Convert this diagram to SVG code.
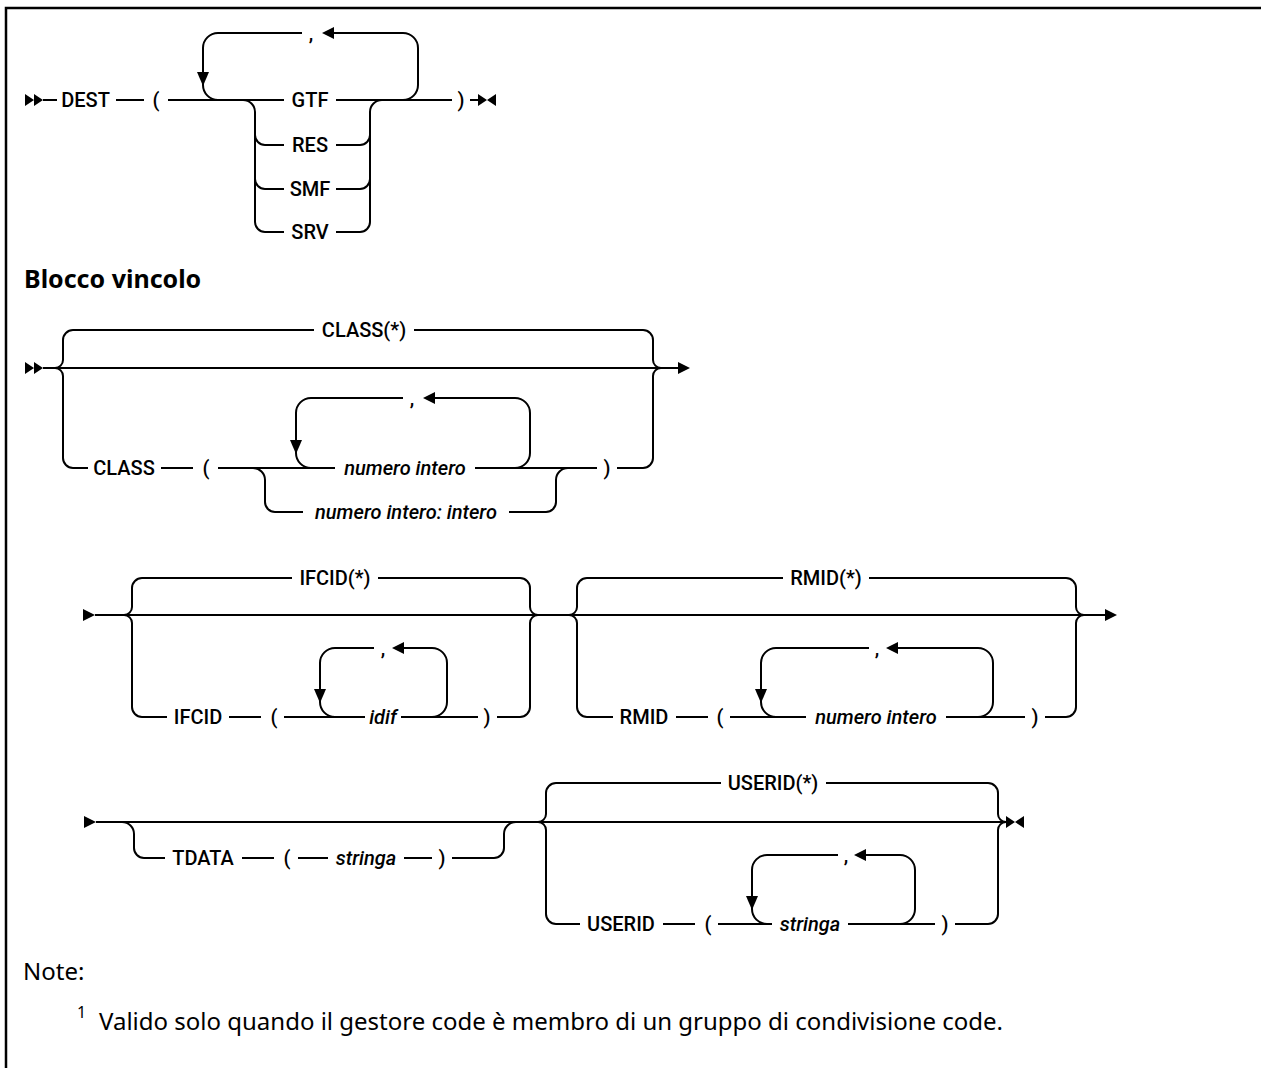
<svg xmlns="http://www.w3.org/2000/svg" xmlns:xlink="http://www.w3.org/1999/xlink" width="1261" height="1068" viewBox="0 0 1261 1068">
<style>
.ln{fill:none;stroke:#000;stroke-width:2}
.fr{fill:none;stroke:#000;stroke-width:2.5}
.ah{fill:#000;stroke:none}
.t{font-family:Roboto,"Liberation Sans",sans-serif;font-size:20px;font-weight:500;text-anchor:middle;fill:#000}
.v{font-style:italic}
.n{font-family:"Noto Sans","Open Sans",sans-serif;font-size:24px;fill:#000}
.h{font-weight:700;font-size:25px}
.s{font-size:16px}
</style>
<defs>
<path id="ar" d="M0,0 L-12,-6 L-12,6 Z"/>
<path id="al" d="M0,0 L12,-6 L12,6 Z"/>
<path id="ad" d="M0,0 L-6,-14 L6,-14 Z"/>
<path id="st" d="M0,-6 L9,0 L0,6 Z M9,-6 L18,0 L9,6 Z"/>
<path id="en" d="M0,-6 L9,0 L0,6 Z M18,-6 L9,0 L18,6 Z"/>
</defs>
<rect width="1261" height="1068" fill="#fff"/>
<path class="fr" d="M6,1068 V8 H1261"/>

<g id="connectors">
<!-- section 1 -->
<use href="#st" class="ah" x="25" y="100"/>
<path class="ln" d="M43,100 H57 M116,100 H144 M168,100 H284 M336,100 H452 M470,100 H478"/>
<path class="ln" d="M302,33 H218 A15,15 0 0 0 203,48 V85 A15,15 0 0 0 218,100"/>
<path class="ln" d="M334,33 H403 A15,15 0 0 1 418,48 V85 A15,15 0 0 1 403,100"/>
<use href="#al" class="ah" x="322" y="33"/>
<use href="#ad" class="ah" x="203" y="86"/>
<path class="ln" d="M243,100 A12,12 0 0 1 255,112 V222 A10,10 0 0 0 265,232 H284 M255,135 A10,10 0 0 0 265,145 H284 M255,179 A10,10 0 0 0 265,189 H284"/>
<path class="ln" d="M336,145 H360 A10,10 0 0 0 370,135 M336,189 H360 A10,10 0 0 0 370,179 M336,232 H360 A10,10 0 0 0 370,222 V112 A12,12 0 0 1 382,100"/>
<use href="#en" class="ah" x="478" y="100"/>

<!-- section 2 -->
<use href="#st" class="ah" x="25" y="368"/>
<path class="ln" d="M43,368 H678"/>
<path class="ln" d="M55,368 A8,8 0 0 0 63,360 V340 A10,10 0 0 1 73,330 H314 M55,368 A8,8 0 0 1 63,376 V458 A10,10 0 0 0 73,468 H88"/>
<path class="ln" d="M414,330 H643 A10,10 0 0 1 653,340 V360 A8,8 0 0 0 661,368"/>
<path class="ln" d="M161,468 H193 M218,468 H335 M475,468 H597 M617,468 H643 A10,10 0 0 0 653,458 V376 A8,8 0 0 1 661,368"/>
<path class="ln" d="M403,398 H311 A15,15 0 0 0 296,413 V453 A15,15 0 0 0 311,468"/>
<path class="ln" d="M435,398 H515 A15,15 0 0 1 530,413 V453 A15,15 0 0 1 515,468"/>
<use href="#al" class="ah" x="423" y="398"/>
<use href="#ad" class="ah" x="296" y="454"/>
<path class="ln" d="M253,468 A12,12 0 0 1 265,480 V502 A10,10 0 0 0 275,512 H303 M509,512 H546 A10,10 0 0 0 556,502 V480 A12,12 0 0 1 568,468"/>
<use href="#ar" class="ah" x="690" y="368"/>

<!-- section 3 -->
<use href="#ar" class="ah" x="95" y="615"/>
<path class="ln" d="M95,615 H1105"/>
<path class="ln" d="M124,615 A8,8 0 0 0 132,607 V588 A10,10 0 0 1 142,578 H292 M124,615 A8,8 0 0 1 132,623 V707 A10,10 0 0 0 142,717 H167"/>
<path class="ln" d="M378,578 H520 A10,10 0 0 1 530,588 V607 A8,8 0 0 0 538,615"/>
<path class="ln" d="M229,717 H261 M284,717 H365 M401,717 H478 M497,717 H520 A10,10 0 0 0 530,707 V623 A8,8 0 0 1 538,615"/>
<path class="ln" d="M374,648 H335 A15,15 0 0 0 320,663 V702 A15,15 0 0 0 335,717"/>
<path class="ln" d="M404,648 H432 A15,15 0 0 1 447,663 V702 A15,15 0 0 1 432,717"/>
<use href="#al" class="ah" x="392" y="648"/>
<use href="#ad" class="ah" x="320" y="703"/>
<path class="ln" d="M569,615 A8,8 0 0 0 577,607 V588 A10,10 0 0 1 587,578 H783 M569,615 A8,8 0 0 1 577,623 V707 A10,10 0 0 0 587,717 H613"/>
<path class="ln" d="M869,578 H1066 A10,10 0 0 1 1076,588 V607 A8,8 0 0 0 1084,615"/>
<path class="ln" d="M676,717 H708 M730,717 H806 M946,717 H1025 M1045,717 H1066 A10,10 0 0 0 1076,707 V623 A8,8 0 0 1 1084,615"/>
<path class="ln" d="M869,648 H776 A15,15 0 0 0 761,663 V702 A15,15 0 0 0 776,717"/>
<path class="ln" d="M898,648 H978 A15,15 0 0 1 993,663 V702 A15,15 0 0 1 978,717"/>
<use href="#al" class="ah" x="886" y="648"/>
<use href="#ad" class="ah" x="761" y="703"/>
<use href="#ar" class="ah" x="1117" y="615"/>

<!-- section 4 -->
<use href="#ar" class="ah" x="96" y="822"/>
<path class="ln" d="M96,822 H1006"/>
<path class="ln" d="M122,822 A12,12 0 0 1 134,834 V848 A10,10 0 0 0 144,858 H165 M242,858 H274 M298,858 H328 M404,858 H432 M452,858 H494 A10,10 0 0 0 504,848 V834 A12,12 0 0 1 516,822"/>
<path class="ln" d="M538,822 A8,8 0 0 0 546,814 V793 A10,10 0 0 1 556,783 H721 M538,822 A8,8 0 0 1 546,830 V914 A10,10 0 0 0 556,924 H580"/>
<path class="ln" d="M826,783 H988 A10,10 0 0 1 998,793 V814 A8,8 0 0 0 1006,822"/>
<path class="ln" d="M663,924 H695 M718,924 H772 M848,924 H935 M955,924 H988 A10,10 0 0 0 998,914 V830 A8,8 0 0 1 1006,822"/>
<path class="ln" d="M838,855 H767 A15,15 0 0 0 752,870 V909 A15,15 0 0 0 767,924"/>
<path class="ln" d="M866,855 H900 A15,15 0 0 1 915,870 V909 A15,15 0 0 1 900,924"/>
<use href="#al" class="ah" x="854" y="855"/>
<use href="#ad" class="ah" x="752" y="910"/>
<use href="#en" class="ah" x="1006" y="822"/>
</g>

<!-- section 1 nodes -->
<g id="n-dest"><text class="t" x="85.5" y="107">DEST</text></g>
<g id="n-lp1"><text class="t" x="156" y="107">(</text></g>
<g id="n-comma1"><text class="t" x="311" y="40">,</text></g>
<g id="n-gtf"><text class="t" x="310" y="107">GTF</text></g>
<g id="n-res"><text class="t" x="310" y="152">RES</text></g>
<g id="n-smf"><text class="t" x="310" y="196">SMF</text></g>
<g id="n-srv"><text class="t" x="310" y="239">SRV</text></g>
<g id="n-rp1"><text class="t" x="461" y="107">)</text></g>

<g id="n-title"><text class="n h" x="24" y="288">Blocco vincolo</text></g>

<!-- section 2 nodes -->
<g id="n-classall"><text class="t" x="364" y="337">CLASS(*)</text></g>
<g id="n-class"><text class="t" x="124" y="475">CLASS</text></g>
<g id="n-lp2"><text class="t" x="206" y="475">(</text></g>
<g id="n-comma2"><text class="t" x="412" y="405">,</text></g>
<g id="n-int1"><text class="t v" x="405" y="475">numero intero</text></g>
<g id="n-int2"><text class="t v" x="406" y="519">numero intero: intero</text></g>
<g id="n-rp2"><text class="t" x="607" y="475">)</text></g>

<!-- section 3 nodes -->
<g id="n-ifcidall"><text class="t" x="335" y="585">IFCID(*)</text></g>
<g id="n-ifcid"><text class="t" x="198" y="724">IFCID</text></g>
<g id="n-lp3"><text class="t" x="274" y="724">(</text></g>
<g id="n-comma3"><text class="t" x="383" y="655">,</text></g>
<g id="n-idif"><text class="t v" x="383" y="724">idif</text></g>
<g id="n-rp3"><text class="t" x="487" y="724">)</text></g>
<g id="n-rmidall"><text class="t" x="826" y="585">RMID(*)</text></g>
<g id="n-rmid"><text class="t" x="644" y="724">RMID</text></g>
<g id="n-lp4"><text class="t" x="720" y="724">(</text></g>
<g id="n-comma4"><text class="t" x="877" y="655">,</text></g>
<g id="n-int3"><text class="t v" x="876" y="724">numero intero</text></g>
<g id="n-rp4"><text class="t" x="1035" y="724">)</text></g>

<!-- section 4 nodes -->
<g id="n-tdata"><text class="t" x="203" y="865">TDATA</text></g>
<g id="n-lp5"><text class="t" x="287" y="865">(</text></g>
<g id="n-str1"><text class="t v" x="366" y="865">stringa</text></g>
<g id="n-rp5"><text class="t" x="442" y="865">)</text></g>
<g id="n-userall"><text class="t" x="773" y="790">USERID(*)</text></g>
<g id="n-userid"><text class="t" x="621" y="931">USERID</text></g>
<g id="n-lp6"><text class="t" x="708" y="931">(</text></g>
<g id="n-comma5"><text class="t" x="846" y="862">,</text></g>
<g id="n-str2"><text class="t v" x="810" y="931">stringa</text></g>
<g id="n-rp6"><text class="t" x="945" y="931">)</text></g>

<!-- notes -->
<g id="n-note"><text class="n" x="23" y="980">Note:</text></g>
<g id="n-note1">
<text class="n s" x="77" y="1018">1</text>
<text class="n" x="99" y="1030">Valido solo quando il gestore code è membro di un gruppo di condivisione code.</text>
</g>
</svg>
